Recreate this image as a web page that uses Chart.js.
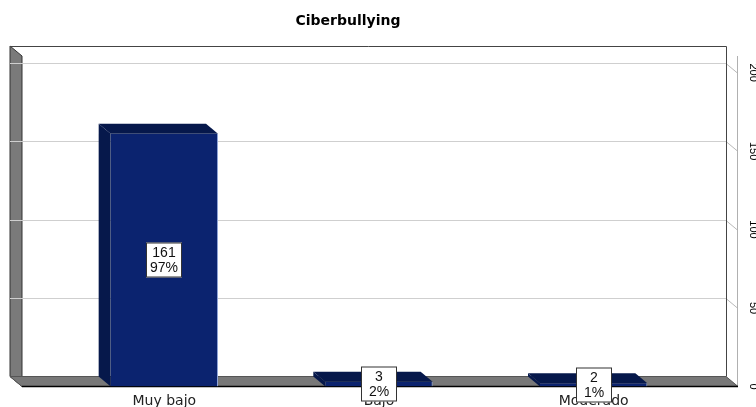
<!DOCTYPE html>
<html>
<head>
<meta charset="utf-8">
<script src="https://cdn.jsdelivr.net/npm/chart.js@4/dist/chart.umd.min.js"></script>
<style>
  body { margin: 0; background: #fff; }
  canvas { display: block; }
</style>
</head>
<body>
<canvas id="myChart" width="756" height="407"></canvas>
<script>
    // datos del grafico
    const titulo = 'Ciberbullying';
    const categorias = ['Muy bajo', 'Bajo', 'Moderado'];
    const frecuencias = [161, 3, 2];
    const porcentajes = [97, 2, 1];
    const ticksY = [0, 50, 100, 150, 200];

    const FUENTE = '"Liberation Sans", Arial, sans-serif';
    const FUENTE_ANCHA = '"DejaVu Sans", Verdana, sans-serif';
    const FUENTE_ESTRECHA = '"Liberation Sans Narrow", "Arial Narrow", "Liberation Sans", sans-serif';
    const DX = 12, DY = 10;          // profundidad 3D
    const FRENTE_IZQ = 22, FRENTE_DER = 738, FRENTE_SUP = 56;
    const azul = '#0b236f';
    const azulOscuro = '#06184b';

    function poligono(ctx, pts) {
        ctx.beginPath();
        ctx.moveTo(pts[0][0], pts[0][1]);
        for (let i = 1; i < pts.length; i++) ctx.lineTo(pts[i][0], pts[i][1]);
        ctx.closePath();
    }

    // caja 3D: pared del fondo, pared izquierda, piso y lineas de cuadricula
    const caja3d = {
        id: 'caja3d',
        beforeDraw(chart) {
            const ctx = chart.ctx;
            const y = chart.scales.y;
            const base = y.getPixelForValue(0);
            const bi = FRENTE_IZQ - DX, bd = FRENTE_DER - DX;
            const bs = FRENTE_SUP - DY, bb = base - DY;
            ctx.save();
            ctx.fillStyle = '#fff';
            ctx.fillRect(0, 0, chart.width, chart.height);

            // titulo
            ctx.fillStyle = '#000';
            ctx.font = 'bold 14px ' + FUENTE_ANCHA;
            ctx.textAlign = 'center';
            ctx.textBaseline = 'alphabetic';
            ctx.fillText(titulo, 348, 25);

            // pared izquierda
            poligono(ctx, [[bi, bs], [FRENTE_IZQ, FRENTE_SUP], [FRENTE_IZQ, base], [bi, bb]]);
            ctx.fillStyle = '#7a7a7a';
            ctx.fill();
            ctx.strokeStyle = '#333';
            ctx.lineWidth = 1;
            ctx.stroke();

            // cuadricula en la pared del fondo
            ticksY.forEach(v => {
                if (v === 0) return;
                const yb = Math.round(y.getPixelForValue(v) - DY) + 0.5;
                ctx.strokeStyle = '#cfcfcf';
                ctx.beginPath();
                ctx.moveTo(bi, yb);
                ctx.lineTo(bd, yb);
                ctx.stroke();
                ctx.strokeStyle = '#b8b8b8';
                ctx.beginPath();
                ctx.moveTo(bd, yb);
                ctx.lineTo(FRENTE_DER, yb + DY);
                ctx.stroke();
            });

            // eje derecho
            ctx.strokeStyle = '#b0b0b0';
            ctx.beginPath();
            ctx.moveTo(FRENTE_DER - 0.5, FRENTE_SUP);
            ctx.lineTo(FRENTE_DER - 0.5, base);
            ctx.stroke();

            // piso
            poligono(ctx, [[bi, bb], [bd, bb], [FRENTE_DER, base], [FRENTE_IZQ, base]]);
            ctx.fillStyle = '#787878';
            ctx.fill();
            ctx.strokeStyle = '#555';
            ctx.stroke();

            // bordes de la caja
            ctx.strokeStyle = '#444';
            ctx.beginPath();
            ctx.moveTo(bi, bs + 0.5);
            ctx.lineTo(bd + 0.5, bs + 0.5);
            ctx.lineTo(bd + 0.5, bb);
            ctx.stroke();
            ctx.strokeStyle = '#000';
            ctx.lineWidth = 1.5;
            ctx.beginPath();
            ctx.moveTo(FRENTE_IZQ, base);
            ctx.lineTo(FRENTE_DER, base);
            ctx.stroke();
            ctx.restore();
        },
        beforeDatasetsDraw(chart) {
            // caras superior e izquierda de las barras
            const ctx = chart.ctx;
            ctx.save();
            ctx.fillStyle = azulOscuro;
            chart.getDatasetMeta(0).data.forEach(bar => {
                const p = bar.getProps(['x', 'y', 'base', 'width'], true);
                const l = p.x - p.width / 2, r = p.x + p.width / 2;
                poligono(ctx, [[l, p.y], [r, p.y], [r - DX, p.y - DY], [l - DX, p.y - DY]]);
                ctx.fill();
                poligono(ctx, [[l, p.y], [l, p.base], [l - DX, p.base - DY], [l - DX, p.y - DY]]);
                ctx.fill();
            });
            ctx.restore();
        },
        afterDatasetsDraw(chart) {
            // etiquetas con frecuencia y porcentaje
            const ctx = chart.ctx;
            ctx.save();
            ctx.font = '14px ' + FUENTE;
            ctx.textAlign = 'center';
            ctx.textBaseline = 'middle';
            chart.getDatasetMeta(0).data.forEach((bar, i) => {
                const p = bar.getProps(['x', 'y', 'base'], true);
                const cx = Math.round(p.x), cy = Math.round((p.y + p.base) / 2);
                const w = 36, h = 35;
                ctx.fillStyle = '#fff';
                ctx.fillRect(cx - w / 2, cy - h / 2, w, h);
                ctx.strokeStyle = '#333';
                ctx.lineWidth = 1;
                ctx.strokeRect(cx - w / 2 + 0.5, cy - h / 2 + 0.5, w - 1, h - 1);
                ctx.fillStyle = '#111';
                ctx.fillText(String(frecuencias[i]), cx, cy - 7);
                ctx.fillText(porcentajes[i] + '%', cx, cy + 8);
            });
            ctx.restore();
        }
    };

    const data = {
        labels: categorias,
        datasets: [
            {
                label: titulo,
                data: frecuencias,
                backgroundColor: azul,
                borderColor: '#8ea3d6',
                borderWidth: {top: 0, left: 0, bottom: 0, right: 1},
                borderSkipped: false,
                categoryPercentage: 1,
                barPercentage: 0.5
            }
        ]
    };

    const config = {
        type: 'bar',
        data: data,
        options: {
            responsive: false,
            animation: false,
            devicePixelRatio: 1,
            layout: {
                padding: {left: 57, right: 0, top: 72.6, bottom: 0}
            },
            plugins: {
                legend: { display: false },
                tooltip: { enabled: false },
                title: { display: false }
            },
            scales: {
                x: {
                    z: 1,
                    grid: { display: false, drawTicks: false },
                    border: { display: false },
                    ticks: {
                        color: '#222',
                        font: { family: FUENTE_ANCHA, size: 14 },
                        padding: 6
                    },
                    afterFit(scale) { scale.height = 20.5; }
                },
                y: {
                    position: 'right',
                    min: 0,
                    max: 200,
                    afterBuildTicks(scale) {
                        scale.ticks = ticksY.map(v => ({value: v}));
                    },
                    grid: { display: false, drawTicks: false },
                    border: { display: false },
                    ticks: {
                        color: '#000',
                        font: { family: FUENTE_ESTRECHA, size: 11 },
                        minRotation: -90,
                        maxRotation: -90,
                        crossAlign: 'center',
                        padding: 43
                    },
                    afterFit(scale) {
                        scale.width = 55;
                        scale.paddingTop = 0;
                        scale.paddingBottom = 0;
                    }
                }
            }
        },
        plugins: [caja3d]
    };

    const myChart = new Chart(
        document.getElementById('myChart'),
        config
    );
</script>
</body>
</html>
